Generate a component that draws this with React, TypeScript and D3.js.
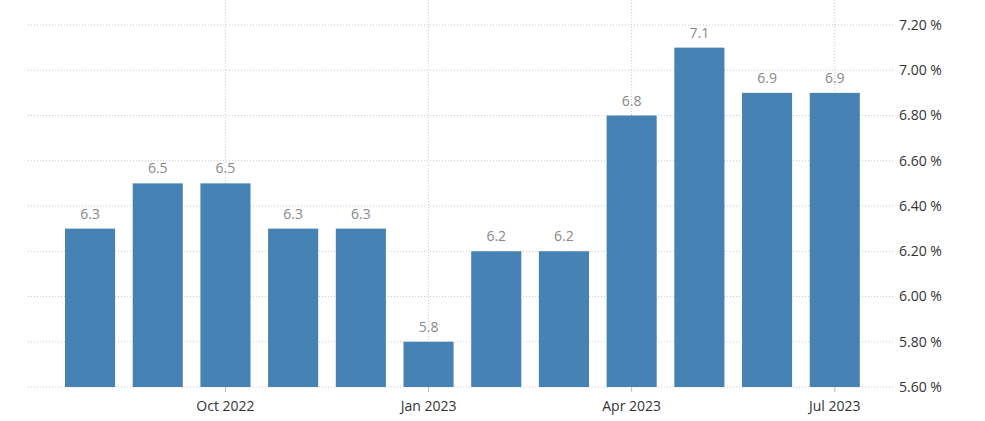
import React from "react";
import * as d3 from "d3";

const months = ["Aug 2022","Sep 2022","Oct 2022","Nov 2022","Dec 2022","Jan 2023","Feb 2023","Mar 2023","Apr 2023","May 2023","Jun 2023","Jul 2023"];
const values = [6.3, 6.5, 6.5, 6.3, 6.3, 5.8, 6.2, 6.2, 6.8, 7.1, 6.9, 6.9];
const yTicks = [5.6, 5.8, 6.0, 6.2, 6.4, 6.6, 6.8, 7.0, 7.2];
const xTickLabels = ["Oct 2022", "Jan 2023", "Apr 2023", "Jul 2023"];

const W = 985, H = 421;

export default function App() {
  const x = d3.scaleBand<string>().domain(months).range([56.2, 868.6]).paddingInner(0.26).paddingOuter(0.13);
  const y = d3.scaleLinear().domain([5.6, 7.2]).range([387, 25]);
  const gridLeft = 28, gridRight = 894;
  const font = "'Segoe UI', 'Open Sans', 'DejaVu Sans', sans-serif";
  return (
    <svg width={W} height={H} style={{ position: "absolute", left: 0, top: 0, background: "#fff" }}>
      {yTicks.map((t) => (
        <g key={t}>
          <line x1={gridLeft} x2={gridRight} y1={y(t)} y2={y(t)} stroke="#c8c8c8" strokeDasharray="1,2" />
          <text x={899} y={y(t)} dy="0.35em" fontSize={14} fill="#333" fontFamily={font}>{t.toFixed(2) + " %"}</text>
        </g>
      ))}
      {xTickLabels.map((lab) => {
        const idx = months.indexOf(lab);
        const cx = (x(months[idx]) ?? 0) + x.bandwidth() / 2;
        return (
          <g key={lab}>
            <line x1={cx} x2={cx} y1={0} y2={387} stroke="#c8c8c8" strokeDasharray="1,2" />
            <line x1={cx} x2={cx} y1={387} y2={392} stroke="#bbb" />
            <text x={cx} y={411} textAnchor="middle" fontSize={14} fill="#333" fontFamily={font}>{lab}</text>
          </g>
        );
      })}
      {values.map((v, i) => {
        const bx = x(months[i]) ?? 0;
        return (
          <g key={i}>
            <rect x={bx} y={y(v)} width={x.bandwidth()} height={y(5.6) - y(v)} fill="#4682B4" />
            <text x={bx + x.bandwidth() / 2} y={y(v) - 10} textAnchor="middle" fontSize={14} fill="#888" fontFamily={font}>{v.toFixed(1)}</text>
          </g>
        );
      })}
    </svg>
  );
}
